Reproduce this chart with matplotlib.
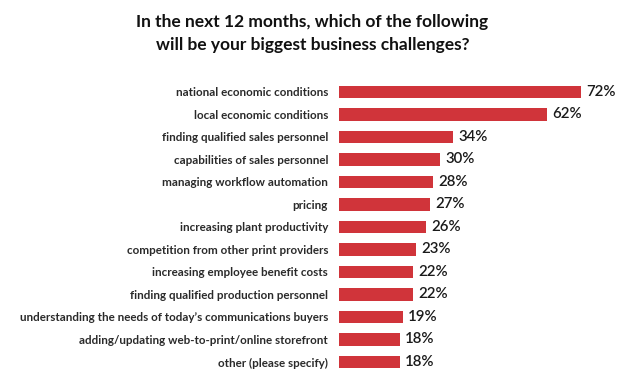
import matplotlib.pyplot as plt

categories = [
    "national economic conditions",
    "local economic conditions",
    "finding qualified sales personnel",
    "capabilities of sales personnel",
    "managing workflow automation",
    "pricing",
    "increasing plant productivity",
    "competition from other print providers",
    "increasing employee benefit costs",
    "finding qualified production personnel",
    "understanding the needs of today\u2019s communications buyers",
    "adding/updating web-to-print/online storefront",
    "other (please specify)",
]
values = [72, 62, 34, 30, 28, 27, 26, 23, 22, 22, 19, 18, 18]

plt.rcParams["font.family"] = ["Lato", "DejaVu Sans"]

fig = plt.figure(figsize=(6.4, 3.9), dpi=100)
ax = fig.add_axes([0.53, 0.043, 0.419, 0.75])

y = list(range(len(categories)))
ax.barh(y, values, height=0.55, color="#D0343A")
ax.set_ylim(len(categories) - 0.5, -0.5)
ax.set_xlim(0, 80)
ax.set_yticks(y)
ax.set_yticklabels(categories, fontsize=8.4, fontweight="bold", color="#2a2a2a")
ax.tick_params(axis="y", length=0, pad=8)
ax.set_xticks([])
for s in ax.spines.values():
    s.set_visible(False)

for yi, v in zip(y, values):
    ax.text(v + 1.6, yi, f"{v}%", va="center", ha="left", fontsize=10.8,
            fontweight="semibold", color="#1a1a1a")

fig.text(0.488, 0.914, "In the next 12 months, which of the following\nwill be your biggest business challenges?",
         ha="center", va="center", fontsize=12.5, fontweight="bold", color="#111111",
         linespacing=1.55)

fig.savefig("out.png", dpi=100)
